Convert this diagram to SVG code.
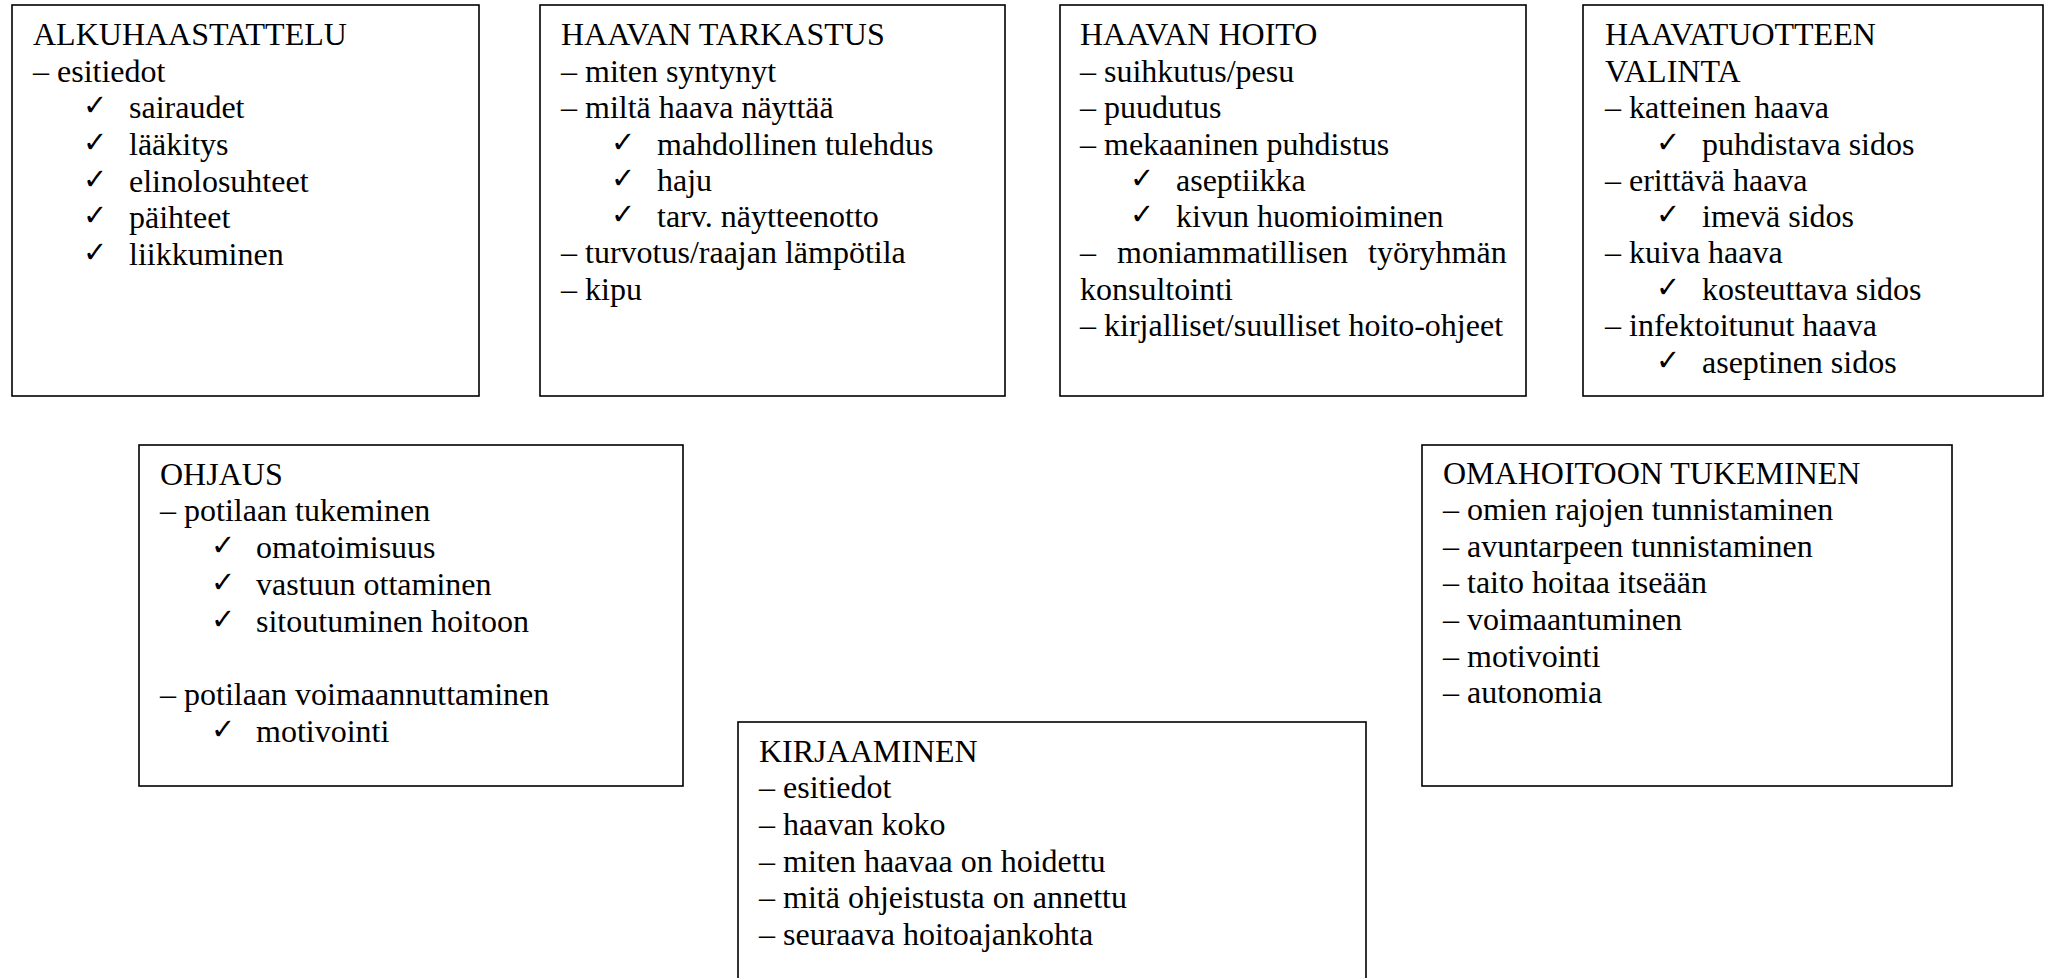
<svg xmlns="http://www.w3.org/2000/svg" width="2045" height="978" viewBox="0 0 2045 978">
<style>
.box{fill:#fff;stroke:#000;stroke-width:1.6}
text{font-family:"Liberation Serif","Times New Roman",serif;font-size:32px;fill:#000}
text.ck{font-family:"DejaVu Sans",sans-serif;font-size:29px;font-weight:bold}
</style>
<rect x="0" y="0" width="2045" height="978" fill="#fff"/>
<g id="connectors"></g>
<g id="alkuhaastattelu">
<rect class="box" x="12" y="5" width="467" height="391"/>
<text x="33" y="45">ALKUHAASTATTELU</text>
<text x="33" y="82">– esitiedot</text>
<text class="ck" x="83" y="115">✓</text><text x="129" y="118">sairaudet</text>
<text class="ck" x="83" y="152">✓</text><text x="129" y="155">lääkitys</text>
<text class="ck" x="83" y="189">✓</text><text x="129" y="192">elinolosuhteet</text>
<text class="ck" x="83" y="225">✓</text><text x="129" y="228">päihteet</text>
<text class="ck" x="83" y="262">✓</text><text x="129" y="265">liikkuminen</text>
</g>
<g id="haavan-tarkastus">
<rect class="box" x="540" y="5" width="465" height="391"/>
<text x="561" y="45">HAAVAN TARKASTUS</text>
<text x="561" y="82">– miten syntynyt</text>
<text x="561" y="118">– miltä haava näyttää</text>
<text class="ck" x="611" y="152">✓</text><text x="657" y="155">mahdollinen tulehdus</text>
<text class="ck" x="611" y="188">✓</text><text x="657" y="191">haju</text>
<text class="ck" x="611" y="224">✓</text><text x="657" y="227">tarv. näytteenotto</text>
<text x="561" y="263">– turvotus/raajan lämpötila</text>
<text x="561" y="300">– kipu</text>
</g>
<g id="haavan-hoito">
<rect class="box" x="1060" y="5" width="466" height="391"/>
<text x="1080" y="45">HAAVAN HOITO</text>
<text x="1080" y="82">– suihkutus/pesu</text>
<text x="1080" y="118">– puudutus</text>
<text x="1080" y="155">– mekaaninen puhdistus</text>
<text class="ck" x="1130" y="188">✓</text><text x="1176" y="191">aseptiikka</text>
<text class="ck" x="1130" y="224">✓</text><text x="1176" y="227">kivun huomioiminen</text>
<text x="1080" y="263">–</text><text x="1117" y="263">moniammatillisen</text><text x="1368" y="263">työryhmän</text>
<text x="1080" y="300">konsultointi</text>
<text x="1080" y="336">– kirjalliset/suulliset hoito-ohjeet</text>
</g>
<g id="haavatuotteen-valinta">
<rect class="box" x="1583" y="5" width="460" height="391"/>
<text x="1605" y="45">HAAVATUOTTEEN</text>
<text x="1605" y="82">VALINTA</text>
<text x="1605" y="118">– katteinen haava</text>
<text class="ck" x="1656" y="152">✓</text><text x="1702" y="155">puhdistava sidos</text>
<text x="1605" y="191">– erittävä haava</text>
<text class="ck" x="1656" y="224">✓</text><text x="1702" y="227">imevä sidos</text>
<text x="1605" y="263">– kuiva haava</text>
<text class="ck" x="1656" y="297">✓</text><text x="1702" y="300">kosteuttava sidos</text>
<text x="1605" y="336">– infektoitunut haava</text>
<text class="ck" x="1656" y="370">✓</text><text x="1702" y="373">aseptinen sidos</text>
</g>
<g id="ohjaus">
<rect class="box" x="139" y="445" width="544" height="341"/>
<text x="160" y="485">OHJAUS</text>
<text x="160" y="521">– potilaan tukeminen</text>
<text class="ck" x="211" y="555">✓</text><text x="256" y="558">omatoimisuus</text>
<text class="ck" x="211" y="592">✓</text><text x="256" y="595">vastuun ottaminen</text>
<text class="ck" x="211" y="629">✓</text><text x="256" y="632">sitoutuminen hoitoon</text>
<text x="160" y="705">– potilaan voimaannuttaminen</text>
<text class="ck" x="211" y="739">✓</text><text x="256" y="742">motivointi</text>
</g>
<g id="omahoitoon-tukeminen">
<rect class="box" x="1422" y="445" width="530" height="341"/>
<text x="1443" y="484">OMAHOITOON TUKEMINEN</text>
<text x="1443" y="520">– omien rajojen tunnistaminen</text>
<text x="1443" y="557">– avuntarpeen tunnistaminen</text>
<text x="1443" y="593">– taito hoitaa itseään</text>
<text x="1443" y="630">– voimaantuminen</text>
<text x="1443" y="667">– motivointi</text>
<text x="1443" y="703">– autonomia</text>
</g>
<g id="kirjaaminen">
<rect class="box" x="738" y="722" width="628" height="280"/>
<text x="759" y="762">KIRJAAMINEN</text>
<text x="759" y="798">– esitiedot</text>
<text x="759" y="835">– haavan koko</text>
<text x="759" y="872">– miten haavaa on hoidettu</text>
<text x="759" y="908">– mitä ohjeistusta on annettu</text>
<text x="759" y="945">– seuraava hoitoajankohta</text>
</g>
</svg>
